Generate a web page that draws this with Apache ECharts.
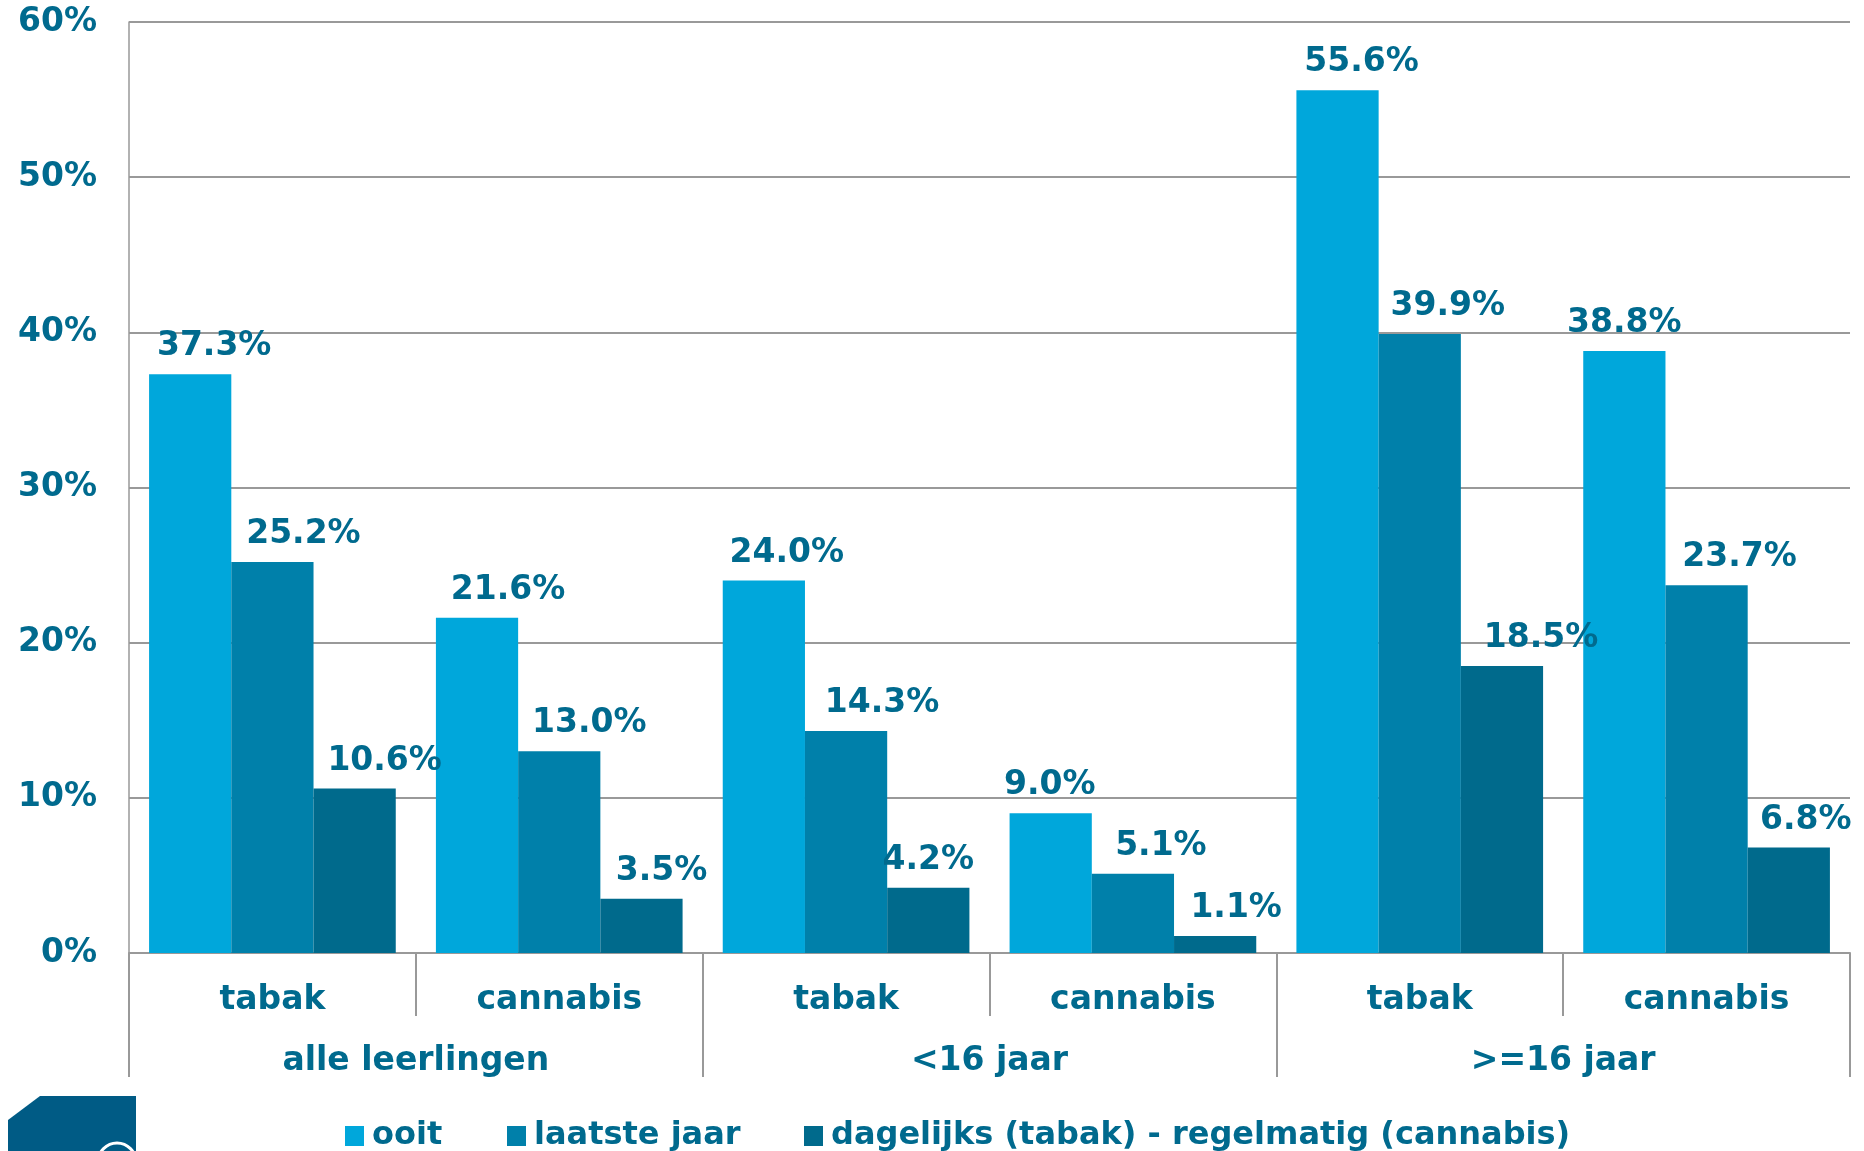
<!DOCTYPE html>
<html>
<head>
<meta charset="utf-8">
<style>html,body{margin:0;padding:0;background:#fff;}#c{width:1864px;height:1151px;}</style>
<script src="https://cdn.jsdelivr.net/npm/echarts@6/dist/echarts.min.js"></script>
</head>
<body>
<div id="c"></div>
<script>
var categories = ['tabak', 'cannabis', 'tabak', 'cannabis', 'tabak', 'cannabis'];
var groups = ['alle leerlingen', '<16 jaar', '>=16 jaar'];
var seriesNames = ['ooit', 'laatste jaar', 'dagelijks (tabak) - regelmatig (cannabis)'];
var ooit = [37.3, 21.6, 24.0, 9.0, 55.6, 38.8];
var laatsteJaar = [25.2, 13.0, 14.3, 5.1, 39.9, 23.7];
var dagelijks = [10.6, 3.5, 4.2, 1.1, 18.5, 6.8];
var yTicks = [0, 10, 20, 30, 40, 50, 60];

// horizontal label shifts (px), as placed in the reference
var labelShift = [
  [24, 31, 23, -1, 24, 0],
  [31, 30, 36, 28, 28, 33],
  [30, 20, 0, 21, 39, 17]
];

var TXT = '#006a8e';
var FONT = 'DejaVu Sans';
var FS = 33;
var colors = ['#00a7db', '#0080aa', '#006a8c'];
var seriesData = [ooit, laatsteJaar, dagelijks];

var chart = echarts.init(document.getElementById('c'));
var series = seriesData.map(function (arr, si) {
  return {
    name: seriesNames[si],
    type: 'bar',
    barGap: '0%',
    barCategoryGap: '14%',
    itemStyle: { color: colors[si] },
    data: arr.map(function (v, i) {
      return { value: v, label: { offset: [labelShift[si][i], 0] } };
    }),
    label: {
      show: true,
      position: 'top',
      distance: 11,
      color: TXT,
      fontFamily: FONT,
      fontWeight: 'bold',
      fontSize: FS,
      formatter: function (p) { return p.value.toFixed(1) + '%'; }
    }
  };
});

function legendAt(idx, left) {
  return {
    data: [seriesNames[idx]],
    left: left,
    top: 1115,
    icon: 'rect',
    itemWidth: 19,
    itemHeight: 20,
    selectedMode: false,
    textStyle: { color: TXT, fontFamily: FONT, fontWeight: 'bold', fontSize: 32, padding: [0, 0, 0, 3] }
  };
}

chart.setOption({
  animation: false,
  backgroundColor: '#fff',
  grid: { left: 129, right: 14, top: 22, bottom: 198 },
  legend: [legendAt(0, 340), legendAt(1, 502), legendAt(2, 799)],
  xAxis: [
    {
      type: 'category',
      data: categories,
      position: 'bottom',
      axisLine: { show: true, lineStyle: { color: '#999', width: 2 } },
      axisTick: { show: true, length: 63, interval: 0, lineStyle: { color: '#999', width: 2 } },
      axisLabel: { interval: 0, margin: 31, color: TXT, fontFamily: FONT, fontWeight: 'bold', fontSize: FS }
    },
    {
      type: 'category',
      data: groups,
      position: 'bottom',
      axisLine: { show: false },
      axisTick: { show: true, length: 124, interval: 0, lineStyle: { color: '#999', width: 2 } },
      axisLabel: { interval: 0, margin: 92, color: TXT, fontFamily: FONT, fontWeight: 'bold', fontSize: FS }
    }
  ],
  yAxis: {
    type: 'value',
    min: yTicks[0],
    max: yTicks[yTicks.length - 1],
    interval: 10,
    axisLine: { show: true, lineStyle: { color: '#999', width: 1.5 } },
    axisTick: { show: false },
    splitLine: { lineStyle: { color: '#999', width: 2 } },
    axisLabel: { margin: 32, color: TXT, fontFamily: FONT, fontWeight: 'bold', fontSize: FS, formatter: '{value}%' }
  },
  graphic: [
    {
      type: 'polygon',
      shape: { points: [[8, 1120], [40, 1096], [136, 1096], [136, 1151], [8, 1151]] },
      style: { fill: '#005b85' }
    },
    {
      type: 'circle',
      shape: { cx: 117, cy: 1162, r: 19 },
      style: { fill: 'none', stroke: '#fff', lineWidth: 3 }
    }
  ],
  series: series
});
</script>
</body>
</html>
